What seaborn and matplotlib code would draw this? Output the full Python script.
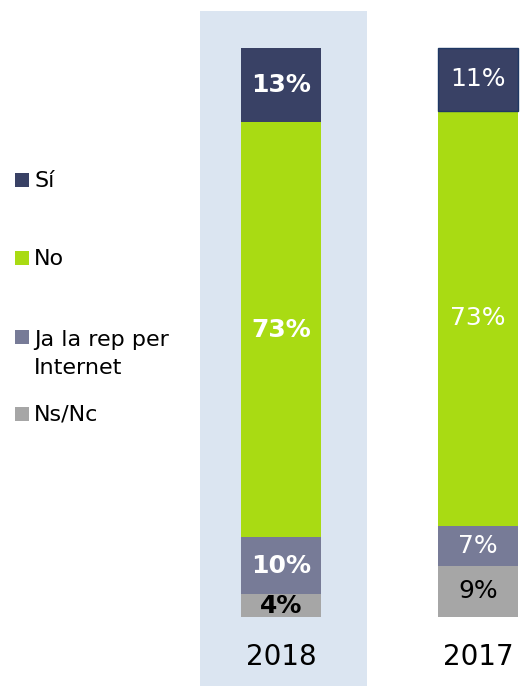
import matplotlib
matplotlib.use("Agg")
import matplotlib.pyplot as plt
import matplotlib.patches as mpatches
import seaborn as sns
import pandas as pd

years = ["2018", "2017"]
categories = ["Ns/Nc", "Ja la rep per\nInternet", "No", "Sí"]  # bottom to top
values = {
    "Ns/Nc": [4, 9],
    "Ja la rep per\nInternet": [10, 7],
    "No": [73, 73],
    "Sí": [13, 11],
}
colors = {
    "Sí": "#394165",
    "No": "#a9db13",
    "Ja la rep per\nInternet": "#777b97",
    "Ns/Nc": "#a6a6a6",
}
label_colors = {
    "Sí": "white",
    "No": "white",
    "Ja la rep per\nInternet": "white",
    "Ns/Nc": "black",
}
bold_year = "2018"
legend_order = ["Sí", "No", "Ja la rep per\nInternet", "Ns/Nc"]

sns.set_style("white")
plt.rcParams["font.family"] = ["DejaVu Sans"]

W, H = 520, 686
fig = plt.figure(figsize=(W / 100, H / 100), dpi=100)
base_px = 69  # bar baseline from bottom
ax = fig.add_axes([0, base_px / H, 1, (H - base_px) / H])

px_per_unit = 197
x_left = -281 / px_per_unit
px_per_pct = 5.69

bottom = [0.0, 0.0]
for cat in categories:
    vals = values[cat]
    d = pd.DataFrame({"year": years, "value": vals})
    sns.barplot(data=d, x="year", y="value", order=years, color=colors[cat],
                bottom=bottom, width=80 / px_per_unit, saturation=1,
                edgecolor="none", linewidth=0, ax=ax, zorder=2)
    for i, (y, v) in enumerate(zip(years, vals)):
        ax.text(i, bottom[i] + v / 2, f"{v}%", ha="center", va="center",
                fontsize=18, color=label_colors[cat],
                fontweight="bold" if y == bold_year else "normal", zorder=3)
    bottom = [b + v for b, v in zip(bottom, vals)]

# thin dark border on the top 2017 segment, as in the reference
top_bar = ax.containers[-1][1]
top_bar.set_edgecolor("#1f3864")
top_bar.set_linewidth(1)

ax.set_xlim(x_left, x_left + W / px_per_unit)
ax.set_ylim(0, (H - base_px) / px_per_pct)

# background highlight for 2018 column
bg = mpatches.Rectangle((-81 / px_per_unit, -base_px / px_per_pct),
                        167 / px_per_unit, (H - 11) / px_per_pct,
                        facecolor="#dbe5f1", edgecolor="none", zorder=0, clip_on=False)
ax.add_patch(bg)

ax.set_xticks(range(len(years)))
ax.set_xticklabels(years, fontsize=20, color="black")
ax.tick_params(axis="x", length=0, pad=19)
ax.set_yticks([])
ax.set_xlabel("")
ax.set_ylabel("")
for s in ax.spines.values():
    s.set_visible(False)
ax.patch.set_alpha(0)

# legend (manual, figure pixel coords)
leg_y = [180, 258, 337, 414]
line_px = 30
for cat, yc in zip(legend_order, leg_y):
    fig.patches.append(mpatches.Rectangle((15 / W, 1 - (yc + 7) / H), 14 / W, 14 / H,
                                          transform=fig.transFigure,
                                          facecolor=colors[cat], edgecolor="none"))
    n_extra = cat.count("\n")
    fig.text(34 / W, 1 - (yc + 7 + line_px * n_extra) / H, cat, ha="left", va="baseline",
             fontsize=16, color="black", linespacing=1.5)

fig.savefig("out.png", dpi=100)
